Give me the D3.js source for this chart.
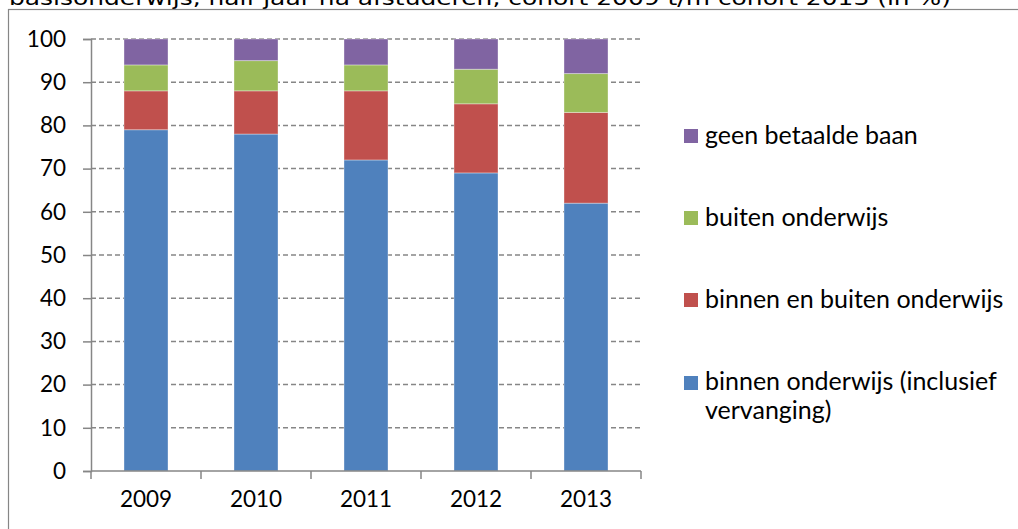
<!DOCTYPE html>
<html lang="nl">
<head>
<meta charset="UTF-8">
<title>Cohort 2009 t/m 2013</title>
<style>
  body { margin: 0; background: #fff; }
  svg { display: block; }
</style>
</head>
<body>
<script src="https://cdn.jsdelivr.net/npm/d3@7"></script>
<script>
// values (in %)
var years = ['2009', '2010', '2011', '2012', '2013'];
var binnen = [79, 78, 72, 69, 62];          // binnen onderwijs (inclusief vervanging)
var binnenBuiten = [9, 10, 16, 16, 21];     // binnen en buiten onderwijs
var buiten = [6, 7, 6, 8, 9];               // buiten onderwijs
var geen = [6, 5, 6, 7, 8];                 // geen betaalde baan
var seriesNames = ['binnen onderwijs (inclusief vervanging)', 'binnen en buiten onderwijs', 'buiten onderwijs', 'geen betaalde baan'];
var seriesColors = ['#4f81bd', '#c0504d', '#9bbb59', '#8064a2'];
var yTicks = [0, 10, 20, 30, 40, 50, 60, 70, 80, 90, 100];
var title = 'basisonderwijs, half jaar na afstuderen, cohort 2009 t/m cohort 2013 (in %)';

var W = 1018, H = 529;
var plotLeft = 91, plotRight = 641, plotTop = 39, plotBottom = 471;

var svg = d3.select('body').append('svg')
    .attr('width', W)
    .attr('height', H);

// title line, cut off by the top of the picture
svg.append('text')
    .attr('x', 9)
    .attr('y', 5)
    .attr('textLength', 942)
    .attr('lengthAdjust', 'spacingAndGlyphs')
    .style('font-family', 'DejaVu Sans, Verdana, sans-serif')
    .style('font-size', '19px')
    .style('fill', '#000')
    .text(title);

// chart frame
svg.append('rect')
    .attr('x', 8.5)
    .attr('y', 9.5)
    .attr('width', W + 10)
    .attr('height', H + 10)
    .attr('fill', 'none')
    .attr('stroke', '#868686')
    .attr('stroke-width', 1.2);

var x = d3.scaleBand().domain(years).range([plotLeft, plotRight]).paddingInner(0.6).paddingOuter(0.3);
var xCat = d3.scaleBand().domain(years).range([plotLeft, plotRight]);
var y = d3.scaleLinear().domain([0, 100]).range([plotBottom, plotTop]);

// gridlines
svg.append('g').selectAll('line')
    .data(yTicks.filter(function(d) { return d > 0; }))
    .enter().append('line')
    .attr('x1', plotLeft).attr('x2', plotRight)
    .attr('y1', function(d) { return y(d); })
    .attr('y2', function(d) { return y(d); })
    .attr('stroke', '#868686')
    .attr('stroke-width', 1.5)
    .attr('stroke-dasharray', '5,3');

// stacked bars
var rows = years.map(function(yr, i) {
    return { year: yr, s0: binnen[i], s1: binnenBuiten[i], s2: buiten[i], s3: geen[i] };
});
var stack = d3.stack().keys(['s0', 's1', 's2', 's3']);
var layers = stack(rows);

svg.append('g').selectAll('g')
    .data(layers)
    .enter().append('g')
    .attr('fill', function(d, i) { return seriesColors[i]; })
    .selectAll('rect')
    .data(function(d) { return d; })
    .enter().append('rect')
    .attr('x', function(d) { return x(d.data.year); })
    .attr('width', x.bandwidth())
    .attr('y', function(d) { return y(d[1]); })
    .attr('height', function(d) { return y(d[0]) - y(d[1]); })
    .attr('stroke', 'rgba(255,255,255,0.35)')
    .attr('stroke-width', 1);

// y axis
var yAxis = svg.append('g')
    .attr('transform', 'translate(' + plotLeft + ',0)')
    .call(d3.axisLeft(y).tickValues(yTicks).tickSize(8).tickPadding(17));
yAxis.select('.domain').attr('stroke', '#868686').attr('stroke-width', 1.5);
yAxis.selectAll('.tick line').attr('stroke', '#868686').attr('stroke-width', 1.5);
yAxis.selectAll('.tick text')
    .style('font-family', 'Lato, sans-serif')
    .style('font-size', '22.5px')
    .style('fill', '#000');

// x axis: ticks at the category boundaries
var xAxisG = svg.append('g').attr('transform', 'translate(0,' + plotBottom + ')');
xAxisG.append('line')
    .attr('x1', plotLeft).attr('x2', plotRight)
    .attr('stroke', '#868686').attr('stroke-width', 1.5);
xAxisG.selectAll('line.tk')
    .data(years.concat(['end']))
    .enter().append('line')
    .attr('class', 'tk')
    .attr('x1', function(d, i) { return plotLeft + i * xCat.bandwidth(); })
    .attr('x2', function(d, i) { return plotLeft + i * xCat.bandwidth(); })
    .attr('y1', 0).attr('y2', 8)
    .attr('stroke', '#868686').attr('stroke-width', 1.5);
xAxisG.selectAll('text')
    .data(years)
    .enter().append('text')
    .attr('x', function(d) { return xCat(d) + xCat.bandwidth() / 2; })
    .attr('y', 36)
    .attr('text-anchor', 'middle')
    .style('font-family', 'Lato, sans-serif')
    .style('font-size', '22.5px')
    .style('fill', '#000')
    .text(function(d) { return d; });

// legend, top to bottom in reverse series order
var legendY = [136, 218, 300, 383];
var legend = svg.append('g').selectAll('g')
    .data(seriesNames.slice().reverse())
    .enter().append('g')
    .attr('transform', function(d, i) { return 'translate(684,' + legendY[i] + ')'; });
legend.append('rect')
    .attr('x', 0).attr('y', -7)
    .attr('width', 14).attr('height', 14)
    .attr('fill', function(d, i) { return seriesColors[3 - i]; });
legend.append('text')
    .attr('x', 21)
    .attr('y', 8)
    .style('font-family', 'Lato, sans-serif')
    .style('font-size', '25px')
    .style('fill', '#000')
    .each(function(d) {
        var t = d3.select(this);
        if (d.indexOf('(inclusief') > -1) {
            t.append('tspan').attr('x', 21).attr('dy', -1).text('binnen onderwijs (inclusief');
            t.append('tspan').attr('x', 21).attr('dy', 29).text('vervanging)');
        } else {
            t.text(d);
        }
    });
</script>
</body>
</html>
